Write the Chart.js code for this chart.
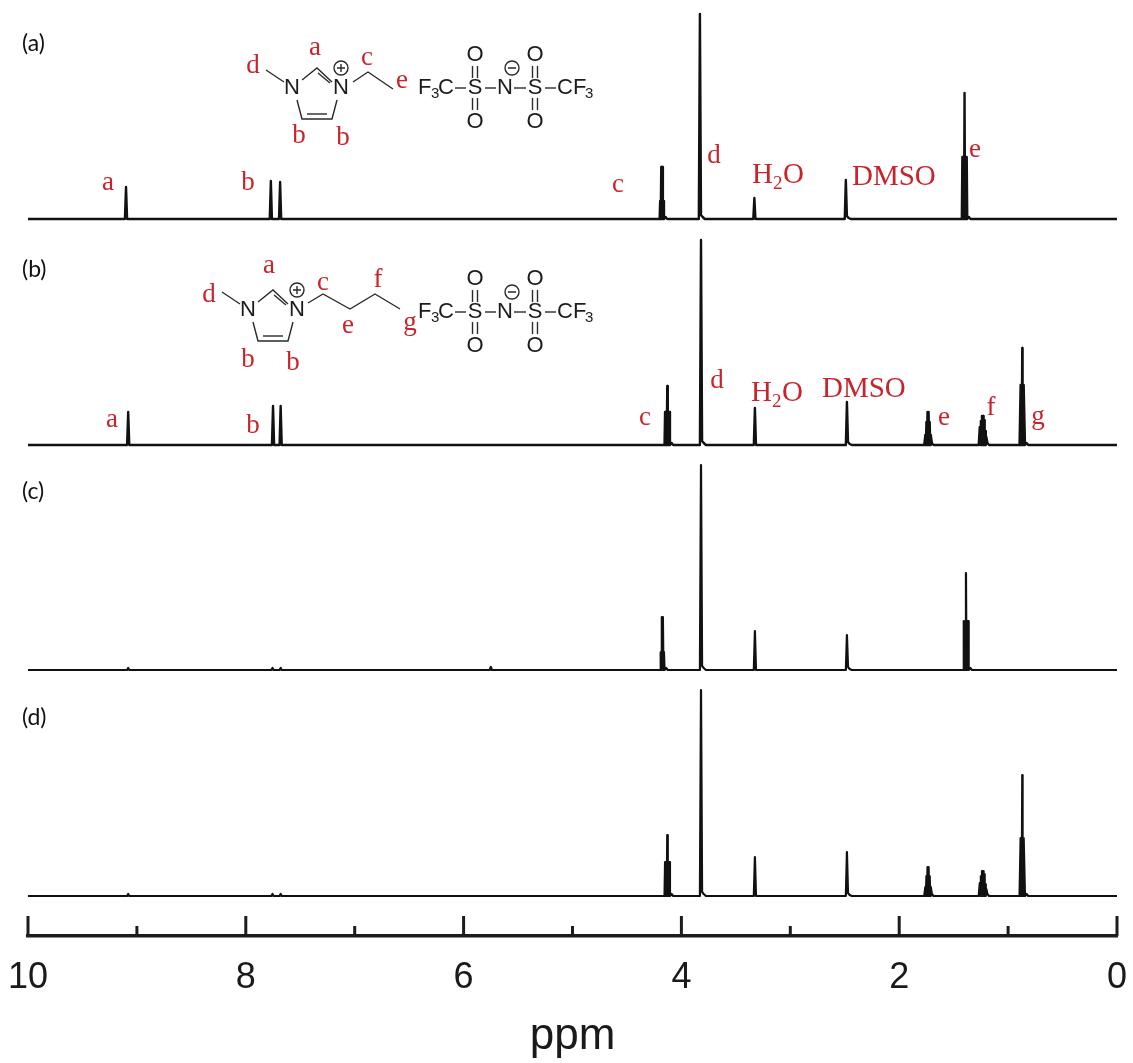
<!DOCTYPE html>
<html>
<head>
<meta charset="utf-8">
<title>1H NMR spectra</title>
<script src="https://cdn.jsdelivr.net/npm/chart.js@4/dist/chart.umd.min.js"></script>
<style>
  html, body { margin: 0; padding: 0; background: #fff; }
  #wrap { width: 1133px; height: 1063px; }
</style>
</head>
<body>
<div id="wrap"><canvas id="nmrChart" width="1133" height="1063"></canvas></div>
<script>
// ── Data ──────────────────────────────────────────────────────────────────
// Intensities are relative to each spectrum's baseline.
// Each line in a ppm list lines up with the same line in its intensity list.
var majorTicks = [10, 8, 6, 4, 2, 0];
var minorTicks = [9, 7, 5, 3, 1];
var baselines  = [717, 491, 266, 40];

var ppmA = [10,
  9.11, 9.1, 9.09,
  7.78, 7.77, 7.76,
  7.695, 7.685, 7.675,
  4.2, 4.195, 4.19, 4.185, 4.18, 4.175, 4.17, 4.165, 4.16, 4.145, 4.13,
  3.84, 3.83, 3.82, 3.805, 3.785,
  3.34, 3.33, 3.32,
  2.5, 2.49, 2.48, 2.465, 2.445,
  1.425, 1.42, 1.415, 1.41, 1.405, 1.4, 1.395, 1.39, 1.385, 1.38, 1.375, 1.36, 1.345,
  0];
var intA = [0,
  0, 32, 0,
  0, 38, 0,
  0, 37, 0,
  0, 18, 0, 52, 0, 52, 0, 18, 0, 2, 0,
  0, 205, 4, 2, 0,
  0, 21, 0,
  0, 39, 3, 1, 0,
  0, 62, 0, 62, 0, 126, 0, 62, 0, 62, 0, 2, 0,
  0];

var ppmB = [10,
  9.09, 9.08, 9.07,
  7.76, 7.75, 7.74,
  7.69, 7.68, 7.67,
  4.155, 4.15, 4.145, 4.14, 4.135, 4.13, 4.125, 4.12, 4.115, 4.11, 4.105, 4.09, 4.075,
  3.83, 3.82, 3.81, 3.795, 3.775,
  3.335, 3.325, 3.315,
  2.49, 2.48, 2.47, 2.455, 2.435,
  1.77, 1.76, 1.755, 1.75, 1.745, 1.74, 1.735, 1.73, 1.725, 1.72, 1.715, 1.71, 1.7, 1.685,
  1.27, 1.26, 1.255, 1.25, 1.245, 1.24, 1.235, 1.23, 1.225, 1.22, 1.215, 1.21, 1.205, 1.2, 1.19, 1.175,
  0.895, 0.885, 0.881, 0.877, 0.873, 0.87, 0.867, 0.863, 0.859, 0.855, 0.845, 0.83, 0.815,
  0];
var intB = [0,
  0, 33, 0,
  0, 39, 0,
  0, 39, 0,
  0, 33, 0, 33, 0, 59, 0, 33, 0, 33, 0, 2, 0,
  0, 205, 4, 2, 0,
  0, 37, 0,
  0, 43, 3, 1, 0,
  0, 10, 0, 23, 0, 33, 0, 33, 0, 23, 0, 10, 2, 0,
  0, 18, 0, 24, 0, 29, 0, 29, 0, 25, 0, 14, 0, 8, 2, 0,
  0, 60, 0, 60, 0, 97, 0, 60, 0, 60, 0, 2, 0,
  0];

var ppmC = [10,
  9.09, 9.08, 9.07,
  7.765, 7.755, 7.745,
  7.69, 7.68, 7.67,
  5.76, 5.75, 5.74,
  4.195, 4.19, 4.185, 4.18, 4.175, 4.17, 4.165, 4.16, 4.155, 4.14, 4.125,
  3.83, 3.82, 3.81, 3.795, 3.775,
  3.335, 3.325, 3.315,
  2.49, 2.48, 2.47, 2.455, 2.435,
  1.412, 1.407, 1.402, 1.397, 1.392, 1.387, 1.382, 1.377, 1.372, 1.367, 1.362, 1.347, 1.332,
  0];
var intC = [0,
  0, 2, 0,
  0, 2, 0,
  0, 2, 0,
  0, 3, 0,
  0, 18, 0, 53, 0, 53, 0, 18, 0, 2, 0,
  0, 205, 4, 2, 0,
  0, 39, 0,
  0, 35, 3, 1, 0,
  0, 49, 0, 49, 0, 97, 0, 49, 0, 49, 0, 2, 0,
  0];

var ppmD = [10,
  9.09, 9.08, 9.07,
  7.765, 7.755, 7.745,
  7.69, 7.68, 7.67,
  4.155, 4.15, 4.145, 4.14, 4.135, 4.13, 4.125, 4.12, 4.115, 4.11, 4.105, 4.09, 4.075,
  3.83, 3.82, 3.81, 3.795, 3.775,
  3.335, 3.325, 3.315,
  2.49, 2.48, 2.47, 2.455, 2.435,
  1.77, 1.76, 1.755, 1.75, 1.745, 1.74, 1.735, 1.73, 1.725, 1.72, 1.715, 1.71, 1.7, 1.685,
  1.27, 1.26, 1.255, 1.25, 1.245, 1.24, 1.235, 1.23, 1.225, 1.22, 1.215, 1.21, 1.205, 1.2, 1.19, 1.175,
  0.895, 0.885, 0.881, 0.877, 0.873, 0.87, 0.867, 0.863, 0.859, 0.855, 0.845, 0.83, 0.815,
  0];
var intD = [0,
  0, 2, 0,
  0, 2, 0,
  0, 2, 0,
  0, 34, 0, 34, 0, 61, 0, 34, 0, 34, 0, 2, 0,
  0, 206, 4, 2, 0,
  0, 39, 0,
  0, 44, 3, 1, 0,
  0, 9, 0, 20, 0, 29, 0, 29, 0, 20, 0, 9, 2, 0,
  0, 13, 0, 20, 0, 25, 0, 25, 0, 22, 0, 12, 0, 7, 2, 0,
  0, 58, 0, 58, 0, 121, 0, 58, 0, 58, 0, 2, 0,
  0];

var panelLabels = [['(a)', 22, 44], ['(b)', 22, 270], ['(c)', 22, 492], ['(d)', 22, 718]];

// peak assignments: text, centre x, centre y (page pixels)
var redLabels = [
  ['a', 108, 183], ['b', 248, 183], ['c', 618, 185], ['d', 714, 156], ['e', 975, 150],
  ['d', 253, 66], ['a', 315, 48], ['c', 367, 58], ['e', 402, 81], ['b', 299, 136], ['b', 343, 138],
  ['a', 112, 420], ['b', 253, 426], ['c', 645, 418], ['d', 717, 381], ['e', 944, 418], ['f', 991, 408], ['g', 1038, 417],
  ['d', 209, 295], ['a', 269, 266], ['c', 323, 283], ['f', 378, 280], ['e', 348, 326], ['g', 410, 323], ['b', 248, 360], ['b', 293, 363]
];
var redWords = [['DMSO', 852, 177], ['DMSO', 822, 389]];
var waterLabels = [[752, 175], [751, 393]];

var RED = '#c8242c';
var INK = '#1c1c1c';

// ── Structures ────────────────────────────────────────────────────────────
function poly(ctx, pts, dx, dy) {
  ctx.beginPath();
  pts.forEach(function(p, i) {
    if (i === 0) ctx.moveTo(p[0] + dx, p[1] + dy);
    else ctx.lineTo(p[0] + dx, p[1] + dy);
  });
  ctx.stroke();
}

function atom(ctx, text, x, y) {
  ctx.font = '22px "Liberation Sans"';
  ctx.textAlign = 'center';
  ctx.fillText(text, x, y);
}

function circled(ctx, sign, x, y) {
  ctx.beginPath();
  ctx.arc(x, y, 7, 0, Math.PI * 2);
  ctx.moveTo(x - 4, y);
  ctx.lineTo(x + 4, y);
  if (sign === '+') {
    ctx.moveTo(x, y - 4);
    ctx.lineTo(x, y + 4);
  }
  ctx.stroke();
}

// F3C-S(O2)-N-S(O2)-CF3, dy shifts the whole group down
function drawAnion(ctx, dy) {
  var y = 88 + dy;
  ctx.textBaseline = 'middle';
  ctx.textAlign = 'left';
  ctx.font = '22px "Liberation Sans"';
  ctx.fillText('F', 418, y);
  ctx.fillText('C', 438, y);
  ctx.fillText('CF', 557, y);
  ctx.font = '15px "Liberation Sans"';
  ctx.fillText('3', 431, y + 6);
  ctx.fillText('3', 585, y + 6);
  atom(ctx, 'S', 475, y);
  atom(ctx, 'S', 535, y);
  atom(ctx, 'N', 505, y);
  atom(ctx, 'O', 475, 55 + dy);
  atom(ctx, 'O', 535, 55 + dy);
  atom(ctx, 'O', 475, 122 + dy);
  atom(ctx, 'O', 535, 122 + dy);
  [[455, 466], [485, 496], [514, 526], [545, 556]].forEach(function(b) {
    poly(ctx, [[b[0], y], [b[1], y]], 0, 0);
  });
  [475, 535].forEach(function(x) {
    [-2.5, 2.5].forEach(function(o) {
      poly(ctx, [[x + o, 66 + dy], [x + o, 78 + dy]], 0, 0);
      poly(ctx, [[x + o, 98 + dy], [x + o, 110 + dy]], 0, 0);
    });
  });
  circled(ctx, '-', 512, 68 + dy);
}

// imidazolium ring with its methyl, positioned by (dx, dy) from panel (a)
function drawCation(ctx, dx, dy) {
  ctx.textBaseline = 'middle';
  atom(ctx, 'N', 292 + dx, 88 + dy);
  atom(ctx, 'N', 341 + dx, 88 + dy);
  poly(ctx, [[266, 70], [284, 82]], dx, dy);
  poly(ctx, [[302, 80], [317, 68], [332, 82]], dx, dy);
  poly(ctx, [[318, 73], [330, 83]], dx, dy);
  poly(ctx, [[297, 100], [302, 119], [332, 119], [337, 100]], dx, dy);
  poly(ctx, [[307, 114], [327, 114]], dx, dy);
  circled(ctx, '+', 341 + dx, 68 + dy);
}

// ── Annotation plugin: axis ticks, panel letters, structures ──────────────
var annotationsPlugin = {
  id: 'annotations',
  afterDraw: function(chart) {
    var ctx  = chart.ctx;
    var xs   = chart.scales.x;
    var base = chart.chartArea.bottom;

    ctx.save();
    ctx.strokeStyle = INK;
    ctx.lineCap = 'butt';
    ctx.lineWidth = 3;
    majorTicks.forEach(function(v) {
      var px = xs.getPixelForValue(v);
      poly(ctx, [[px, base], [px, base - 20]], 0, 0);
    });
    minorTicks.forEach(function(v) {
      var px = xs.getPixelForValue(v);
      poly(ctx, [[px, base], [px, base - 10]], 0, 0);
    });

    ctx.fillStyle = INK;
    ctx.strokeStyle = '#2a2a2a';
    ctx.lineWidth = 1.4;
    drawCation(ctx, 0, 0);
    drawCation(ctx, -44, 222);
    poly(ctx, [[353, 82], [368, 72], [393, 89]], 0, 0);
    poly(ctx, [[308, 303], [323, 294], [350, 309], [375, 294], [400, 309]], 0, 0);
    drawAnion(ctx, 0);
    drawAnion(ctx, 224);

    ctx.fillStyle = '#111';
    ctx.font = '23px Lato';
    ctx.textAlign = 'left';
    ctx.textBaseline = 'middle';
    panelLabels.forEach(function(l) { ctx.fillText(l[0], l[1], l[2]); });

    ctx.fillStyle = RED;
    ctx.font = '27px "Liberation Serif"';
    ctx.textAlign = 'center';
    redLabels.forEach(function(l) { ctx.fillText(l[0], l[1], l[2]); });

    ctx.font = '29px "Liberation Serif"';
    ctx.textAlign = 'left';
    redWords.forEach(function(l) { ctx.fillText(l[0], l[1], l[2]); });
    waterLabels.forEach(function(l) {
      ctx.font = '29px "Liberation Serif"';
      ctx.fillText('H', l[0], l[1]);
      ctx.fillText('O', l[0] + 31, l[1]);
      ctx.font = '19px "Liberation Serif"';
      ctx.fillText('2', l[0] + 21, l[1] + 9);
    });
    ctx.restore();
  }
};

// ── Chart ─────────────────────────────────────────────────────────────────
function spectrum(ppm, intensity, base, width) {
  return {
    data: ppm.map(function(p, i) { return { x: p, y: base + intensity[i] }; }),
    borderColor: '#111',
    borderWidth: width,
    borderJoinStyle: 'round',
    pointRadius: 0,
    tension: 0,
    showLine: true,
    fill: false,
    clip: false,
  };
}

new Chart(document.getElementById('nmrChart'), {
  type: 'scatter',
  data: {
    datasets: [
      spectrum(ppmA, intA, baselines[0], 2.4),
      spectrum(ppmB, intB, baselines[1], 2.4),
      spectrum(ppmC, intC, baselines[2], 2.2),
      spectrum(ppmD, intD, baselines[3], 2.2),
    ]
  },
  plugins: [annotationsPlugin],
  options: {
    responsive: false,
    animation: false,
    layout: { padding: { left: 28, right: 16, top: 0, bottom: 0 } },
    plugins: { legend: { display: false }, tooltip: { enabled: false } },
    scales: {
      x: {
        type: 'linear',
        reverse: true,
        min: 0,
        max: 10,
        // keep the plot box fixed: labels may hang over the padding
        afterFit: function(scale) {
          scale.height = 127;
          scale.paddingLeft = 0;
          scale.paddingRight = 0;
        },
        border: { display: true, width: 3.5, color: INK },
        grid: { drawOnChartArea: false, drawTicks: false },
        ticks: {
          stepSize: 1,
          autoSkip: false,
          maxRotation: 0,
          padding: 20,
          color: '#1a1a1a',
          font: { family: '"Liberation Sans"', size: 36 },
          callback: function(v) { return majorTicks.indexOf(v) >= 0 ? String(v) : ''; },
        },
        title: {
          display: true,
          text: 'ppm',
          color: '#1a1a1a',
          font: { family: '"Liberation Sans"', size: 44 },
          padding: { top: 0, bottom: 0 },
        },
      },
      y: { display: false, min: 0, max: 936 },
    }
  }
});
</script>
</body>
</html>
